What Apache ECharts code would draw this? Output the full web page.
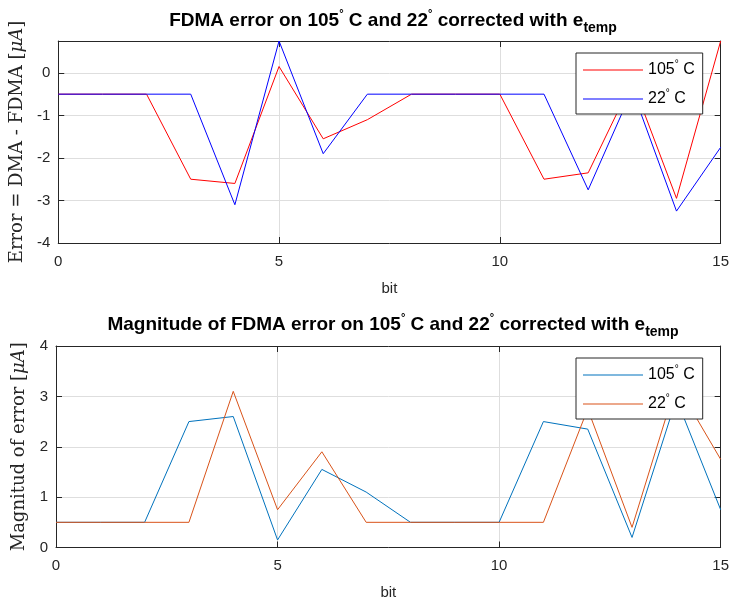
<!DOCTYPE html>
<html>
<head>
<meta charset="utf-8">
<script src="https://cdn.jsdelivr.net/npm/echarts@6/dist/echarts.min.js"></script>
<style>
  html, body { margin: 0; padding: 0; background: #fff; }
  #chart { width: 732px; height: 607px; }
</style>
</head>
<body>
<div id="chart"></div>
<script>
// bit index shared by both panels
const bits = [0, 1, 2, 3, 4, 5, 6, 7, 8, 9, 10, 11, 12, 13, 14, 15];

// signed FDMA error after e_temp correction [uA]
const err105 = [-0.5, -0.5, -0.5, -2.5, -2.6, 0.15, -1.55, -1.1, -0.5, -0.5, -0.5, -2.5, -2.35, -0.2, -2.95, 0.75];
const err22  = [-0.5, -0.5, -0.5, -0.5, -3.1, 0.75, -1.9, -0.5, -0.5, -0.5, -0.5, -0.5, -2.75, -0.4, -3.25, -1.75];

// magnitude of the same error [uA]
const mag105 = [0.5, 0.5, 0.5, 2.5, 2.6, 0.15, 1.55, 1.1, 0.5, 0.5, 0.5, 2.5, 2.35, 0.2, 2.95, 0.75];
const mag22  = [0.5, 0.5, 0.5, 0.5, 3.1, 0.75, 1.9, 0.5, 0.5, 0.5, 0.5, 0.5, 2.75, 0.4, 3.25, 1.75];

const xTicks = [0, 5, 10, 15];
const errTicks = [-4, -3, -2, -1, 0];
const magTicks = [0, 1, 2, 3, 4];

const legendText = {
  e105: '105{sup|°} C', e22: '22{sup|°} C',
  m105: '105{sup|°} C', m22: '22{sup|°} C'
};

const AXIS = '#262626';
const GRID = '#dedede';
const SANS = 'Liberation Sans, Arial, sans-serif';
const SERIF = 'DejaVu Serif, serif';

const pairs = (xs, ys) => xs.map((x, i) => [x, ys[i]]);

const titleRich = {
  sup: { fontSize: 11, fontWeight: 'bold', fontFamily: SANS, color: '#000', padding: [0, 0, 14, 0] },
  sub: { fontSize: 14, fontWeight: 'bold', fontFamily: SANS, color: '#000', padding: [15, 0, 0, 0] }
};

function xAxes(gridIndex) {
  const base = {
    gridIndex, type: 'value', min: 0, max: 15, interval: 5,
    axisLine: { show: true, onZero: false, lineStyle: { color: AXIS, width: 1 } },
    axisTick: { show: true, inside: true, length: 6, lineStyle: { color: AXIS } }
  };
  return [
    Object.assign({}, base, {
      position: 'bottom',
      axisLabel: {
        color: AXIS, fontSize: 15, fontFamily: SANS, margin: 11,
        formatter: v => (xTicks.includes(v) ? String(v) : '')
      },
      splitLine: { show: true, lineStyle: { color: GRID, width: 1 } },
      name: 'bit', nameLocation: 'middle', nameGap: 38,
      nameTextStyle: { color: AXIS, fontSize: 15, fontFamily: SANS }
    }),
    Object.assign({}, base, {
      position: 'top',
      axisLabel: { show: false },
      splitLine: { show: false }
    })
  ];
}

function yAxes(gridIndex, min, max, ticks, name, gap) {
  const base = {
    gridIndex, type: 'value', min, max, interval: 1,
    axisLine: { show: true, onZero: false, lineStyle: { color: AXIS, width: 1 } },
    axisTick: { show: true, inside: true, length: 6, lineStyle: { color: AXIS } }
  };
  return [
    Object.assign({}, base, {
      position: 'left',
      axisLabel: {
        color: AXIS, fontSize: 15, fontFamily: SANS, margin: 8,
        formatter: v => (ticks.includes(v) ? String(v) : '')
      },
      splitLine: { show: true, lineStyle: { color: GRID, width: 1 } },
      name, nameLocation: 'middle', nameRotate: 90, nameGap: gap,
      nameTextStyle: {
        color: AXIS, fontSize: 18, fontFamily: SERIF,
        rich: { it: { fontSize: 18, fontFamily: SERIF, fontStyle: 'italic', color: AXIS } }
      }
    }),
    Object.assign({}, base, {
      position: 'right',
      axisLabel: { show: false },
      splitLine: { show: false },
      axisTick: { show: true, inside: true, length: 6, lineStyle: { color: AXIS },
        customValues: ticks }
    })
  ];
}

function legend(names, top) {
  return {
    data: names,
    orient: 'vertical',
    left: 576, top,
    backgroundColor: '#fff',
    borderColor: AXIS, borderWidth: 1, borderRadius: 0,
    shadowBlur: 0, shadowColor: 'rgba(0,0,0,0)',
    padding: [6, 8, 5, 7],
    itemGap: 8,
    itemWidth: 60, itemHeight: 1.2,
    icon: 'rect',
    selectedMode: false,
    formatter: n => legendText[n],
    textStyle: {
      color: '#000', fontSize: 16, fontFamily: SANS, lineHeight: 20,
      rich: { sup: { fontSize: 10, fontFamily: SANS, color: '#000', padding: [0, 0, 12, 0] } }
    }
  };
}

function line(name, data, color, xi, yi) {
  return {
    name, type: 'line', data, xAxisIndex: xi, yAxisIndex: yi,
    symbol: 'none', animation: false, silent: true,
    lineStyle: { color, width: 1 }, itemStyle: { color }
  };
}

const chart = echarts.init(document.getElementById('chart'), null, { renderer: 'canvas' });

chart.setOption({
  backgroundColor: '#fff',
  animation: false,
  title: [
    {
      text: 'FDMA error on 105{sup|°} C and 22{sup|°} corrected with e{sub|temp}',
      left: 388, top: 1, textAlign: 'center',
      textStyle: { fontSize: 19, fontWeight: 'bold', fontFamily: SANS, color: '#000', rich: titleRich }
    },
    {
      text: 'Magnitude of FDMA error on 105{sup|°} C and 22{sup|°} corrected with e{sub|temp}',
      left: 388, top: 305, textAlign: 'center',
      textStyle: { fontSize: 19, fontWeight: 'bold', fontFamily: SANS, color: '#000', rich: titleRich }
    }
  ],
  grid: [
    { left: 56, right: 11, top: 41, height: 202, show: false },
    { left: 56, right: 11, top: 346, height: 201.5, show: false }
  ],
  xAxis: [].concat(xAxes(0), xAxes(1)),
  yAxis: [].concat(
    yAxes(0, -4, 0.75, errTicks, 'Error = DMA - FDMA [{it|μA}]', 25),
    yAxes(1, 0, 4, magTicks, 'Magnitud of error [{it|μA}]', 17)
  ),
  legend: [legend(['e105', 'e22'], 53), legend(['m105', 'm22'], 358)],
  series: [
    line('e105', pairs(bits, err105), '#ff0000', 0, 0),
    line('e22', pairs(bits, err22), '#0000ff', 0, 0),
    line('m105', pairs(bits, mag105), '#0072bd', 2, 2),
    line('m22', pairs(bits, mag22), '#d95319', 2, 2)
  ]
});
</script>
</body>
</html>
